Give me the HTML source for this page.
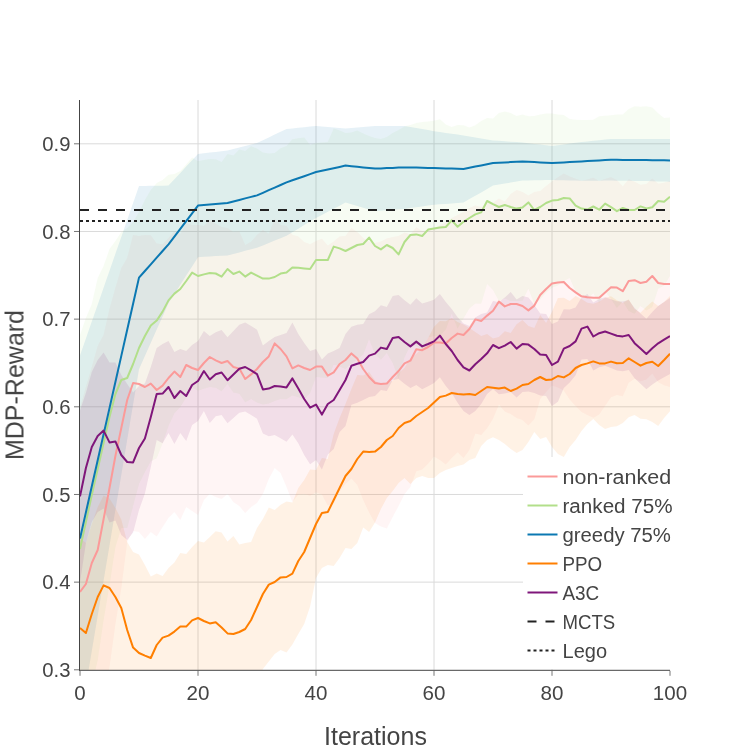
<!DOCTYPE html>
<html lang="en"><head><meta charset="utf-8"><title>MDP-Reward vs Iterations</title>
<style>html,body{margin:0;padding:0;background:#fff;}body{width:750px;height:750px;overflow:hidden;}svg{display:block;}text{font-family:"Liberation Sans",sans-serif;fill:#444;}</style>
</head><body>
<svg width="750" height="750" viewBox="0 0 750 750">
<rect x="0" y="0" width="750" height="750" fill="#fff"/>
<defs><clipPath id="plotclip"><rect x="80" y="100" width="590" height="570"/></clipPath></defs>
<g stroke="#dadada" stroke-width="1">
<line x1="198.0" y1="100" x2="198.0" y2="669.8"/>
<line x1="316.0" y1="100" x2="316.0" y2="669.8"/>
<line x1="434.0" y1="100" x2="434.0" y2="669.8"/>
<line x1="552.0" y1="100" x2="552.0" y2="669.8"/>
<line x1="80" y1="582.13" x2="670" y2="582.13"/>
<line x1="80" y1="494.47" x2="670" y2="494.47"/>
<line x1="80" y1="406.80" x2="670" y2="406.80"/>
<line x1="80" y1="319.13" x2="670" y2="319.13"/>
<line x1="80" y1="231.47" x2="670" y2="231.47"/>
<line x1="80" y1="143.80" x2="670" y2="143.80"/>
</g>
<g clip-path="url(#plotclip)">
<polygon points="80.0,408.0 85.9,387.0 91.8,367.0 97.7,346.0 103.6,335.0 109.5,309.0 115.4,288.0 121.3,268.0 127.2,258.0 133.1,235.0 139.0,236.0 144.9,235.0 150.8,235.2 156.7,243.5 162.6,244.2 168.5,238.0 174.4,231.2 180.3,234.0 186.2,223.0 192.1,225.0 198.0,225.0 203.9,226.0 209.8,220.0 215.7,223.8 221.6,227.0 227.5,228.0 233.4,232.0 239.3,231.2 245.2,245.0 251.1,241.8 257.0,235.0 262.9,230.0 268.8,233.8 274.7,218.8 280.6,225.0 286.5,225.8 292.4,234.8 298.3,236.4 304.2,242.0 310.1,244.2 316.0,241.0 321.9,238.8 327.8,245.6 333.7,241.4 339.6,236.5 345.5,236.0 351.4,228.1 357.3,232.0 363.2,238.0 369.1,241.5 375.0,243.0 380.9,241.5 386.8,238.6 392.7,237.0 398.6,236.0 404.5,232.6 410.4,234.4 416.3,227.3 422.2,230.9 428.1,230.3 434.0,228.6 439.9,225.1 445.8,222.6 451.7,218.0 457.6,215.0 463.5,212.0 469.4,208.0 475.3,205.4 481.2,207.0 487.1,203.0 493.0,202.8 498.9,198.6 504.8,201.4 510.7,194.0 516.6,190.0 522.5,192.0 528.4,195.4 534.3,192.0 540.2,191.0 546.1,186.0 552.0,181.6 557.9,177.2 563.8,173.6 569.7,176.4 575.6,178.8 581.5,180.7 587.4,179.4 593.3,177.7 599.2,181.1 605.1,179.1 611.0,177.3 616.9,180.1 622.8,186.2 628.7,179.2 634.6,181.7 640.5,184.8 646.4,183.9 652.3,178.5 658.2,183.7 664.1,182.8 670.0,181.0 670.0,387.0 664.1,385.2 658.2,382.3 652.3,373.5 646.4,379.5 640.5,381.2 634.6,378.7 628.7,382.8 622.8,396.2 616.9,395.1 611.0,397.3 605.1,405.7 599.2,414.5 593.3,417.7 587.4,415.0 581.5,411.9 575.6,406.0 569.7,399.6 563.8,390.4 557.9,387.6 552.0,385.6 546.1,392.0 540.2,399.0 534.3,419.2 528.4,425.4 522.5,420.0 516.6,418.0 510.7,414.0 504.8,411.4 498.9,404.6 493.0,418.8 487.1,428.2 481.2,435.0 475.3,433.4 469.4,450.0 463.5,458.0 457.6,452.2 451.7,458.0 445.8,464.6 439.9,460.1 434.0,456.6 428.1,463.7 422.2,469.5 416.3,471.3 410.4,487.0 404.5,494.0 398.6,506.0 392.7,517.0 386.8,528.6 380.9,526.5 375.0,523.0 369.1,512.5 363.2,500.0 357.3,485.0 351.4,478.6 345.5,484.0 339.6,491.5 333.7,503.4 327.8,505.6 321.9,494.4 316.0,492.2 310.1,495.8 304.2,494.0 298.3,494.4 292.4,502.0 286.5,487.0 280.6,473.0 274.7,468.0 268.8,479.0 262.9,494.0 257.0,503.0 251.1,507.0 245.2,513.0 239.3,506.0 233.4,502.0 227.5,494.0 221.6,499.0 215.7,497.0 209.8,494.0 203.9,500.0 198.0,515.0 192.1,511.0 186.2,507.0 180.3,520.0 174.4,512.0 168.5,518.0 162.6,527.0 156.7,536.5 150.8,532.0 144.9,539.0 139.0,532.0 133.1,531.0 127.2,542.0 121.3,588.0 115.4,624.0 109.5,667.0 103.6,703.0 97.7,754.0 91.8,759.0 85.9,781.0 80.0,776.0" fill="#FB9A99" fill-opacity="0.1" stroke="none"/>
<polygon points="80.0,335.0 85.9,318.0 91.8,304.0 97.7,278.0 103.6,266.0 109.5,249.0 115.4,241.0 121.3,232.0 127.2,228.0 133.1,222.0 139.0,212.0 144.9,200.0 150.8,190.0 156.7,183.0 162.6,180.0 168.5,174.8 174.4,174.0 180.3,170.9 186.2,164.5 192.1,157.6 198.0,161.3 203.9,160.1 209.8,159.0 215.7,159.2 221.6,161.9 227.5,154.0 233.4,155.5 239.3,149.5 245.2,151.0 251.1,146.3 257.0,148.6 262.9,152.6 268.8,153.6 274.7,153.0 280.6,148.3 286.5,146.0 292.4,139.3 298.3,138.3 304.2,137.4 310.1,145.0 316.0,143.0 321.9,142.5 327.8,142.0 333.7,128.6 339.6,130.4 345.5,133.0 351.4,132.6 357.3,130.5 363.2,133.6 369.1,136.0 375.0,138.0 380.9,139.0 386.8,137.0 392.7,133.0 398.6,130.0 404.5,126.6 410.4,125.0 416.3,123.0 422.2,122.0 428.1,121.6 434.0,120.7 439.9,119.3 445.8,124.5 451.7,127.0 457.6,125.0 463.5,125.3 469.4,127.6 475.3,125.3 481.2,121.0 487.1,117.9 493.0,118.4 498.9,112.9 504.8,111.5 510.7,112.9 516.6,116.1 522.5,114.4 528.4,116.3 534.3,116.1 540.2,114.6 546.1,113.5 552.0,113.4 557.9,114.5 563.8,114.9 569.7,118.9 575.6,119.8 581.5,120.1 587.4,120.1 593.3,119.8 599.2,116.3 605.1,115.8 611.0,115.3 616.9,114.4 622.8,114.6 628.7,108.9 634.6,106.3 640.5,106.8 646.4,106.3 652.3,107.5 658.2,113.2 664.1,118.0 670.0,117.5 670.0,275.9 664.1,285.4 658.2,288.8 652.3,307.1 646.4,310.5 640.5,306.0 634.6,313.7 628.7,311.1 622.8,301.4 616.9,308.0 611.0,299.1 605.1,291.4 599.2,303.1 593.3,293.2 587.4,299.1 581.5,297.1 575.6,291.4 569.7,277.9 563.8,281.1 557.9,285.5 552.0,287.8 546.1,292.5 540.2,299.4 534.3,303.9 528.4,288.5 522.5,300.8 516.6,301.1 510.7,301.1 504.8,298.5 498.9,301.1 493.0,290.0 487.1,284.1 481.2,303.8 475.3,303.5 469.4,308.4 463.5,318.3 457.6,328.6 451.7,313.8 445.8,329.5 439.9,335.9 434.0,336.1 428.1,337.6 422.2,350.0 416.3,345.8 410.4,345.0 404.5,357.4 398.6,378.8 392.7,363.0 386.8,353.0 380.9,359.8 375.0,354.0 369.1,339.2 363.2,354.4 357.3,359.5 351.4,363.4 345.5,369.0 339.6,366.4 333.7,364.6 327.8,378.0 321.9,377.5 316.0,377.0 310.1,393.0 304.2,399.4 298.3,397.3 292.4,395.5 286.5,399.2 280.6,398.9 274.7,401.0 268.8,403.6 262.9,404.6 257.0,402.6 251.1,398.9 245.2,402.2 239.3,393.7 233.4,392.5 227.5,384.0 221.6,391.3 215.7,387.8 209.8,387.0 203.9,388.7 198.0,390.7 192.1,387.6 186.2,397.5 180.3,407.1 174.4,413.2 168.5,426.0 162.6,443.2 156.7,458.2 150.8,461.2 144.9,472.0 139.0,484.0 133.1,506.0 127.2,528.0 121.3,528.0 115.4,547.0 109.5,585.0 103.6,620.0 97.7,660.0 91.8,686.0 85.9,726.0 80.0,763.0" fill="#B2DF8A" fill-opacity="0.1" stroke="none"/>
<polygon points="80.0,355.5 85.9,338.5 91.8,321.6 97.7,304.7 103.6,287.7 109.5,270.8 115.4,253.8 121.3,236.9 127.2,219.9 133.1,203.0 139.0,186.0 144.9,185.9 150.8,185.8 156.7,185.8 162.6,185.7 168.5,185.6 174.4,179.3 180.3,173.0 186.2,166.6 192.1,160.3 198.0,154.0 203.9,153.3 209.8,152.6 215.7,152.0 221.6,151.3 227.5,150.6 233.4,149.1 239.3,147.6 245.2,146.0 251.1,144.5 257.0,143.0 262.9,140.2 268.8,137.4 274.7,134.6 280.6,131.8 286.5,129.0 292.4,128.4 298.3,127.8 304.2,127.2 310.1,126.6 316.0,126.0 321.9,126.5 327.8,127.0 333.7,127.6 339.6,128.1 345.5,128.6 351.4,128.1 357.3,127.6 363.2,127.1 369.1,126.6 375.0,126.1 380.9,126.1 386.8,126.0 392.7,126.0 398.6,125.9 404.5,125.9 410.4,127.0 416.3,128.0 422.2,129.1 428.1,130.1 434.0,131.2 439.9,132.1 445.8,132.9 451.7,133.8 457.6,134.6 463.5,135.5 469.4,136.5 475.3,137.5 481.2,138.4 487.1,139.4 493.0,140.4 498.9,140.8 504.8,141.2 510.7,141.7 516.6,142.1 522.5,142.5 528.4,143.2 534.3,143.9 540.2,144.6 546.1,145.3 552.0,146.0 557.9,145.2 563.8,144.4 569.7,143.6 575.6,142.8 581.5,142.0 587.4,141.4 593.3,140.8 599.2,140.2 605.1,139.6 611.0,139.0 616.9,139.0 622.8,139.0 628.7,139.0 634.6,139.0 640.5,139.0 646.4,139.0 652.3,139.0 658.2,139.1 664.1,139.1 670.0,139.1 670.0,181.7 664.1,181.6 658.2,181.4 652.3,181.3 646.4,181.1 640.5,181.0 634.6,180.9 628.7,180.8 622.8,180.8 616.9,180.7 611.0,180.6 605.1,180.6 599.2,180.7 593.3,180.7 587.4,180.8 581.5,180.8 575.6,180.6 569.7,180.5 563.8,180.3 557.9,180.2 552.0,180.0 546.1,180.1 540.2,180.2 534.3,180.3 528.4,180.4 522.5,180.5 516.6,181.5 510.7,182.5 504.8,183.6 498.9,184.6 493.0,185.6 487.1,189.0 481.2,192.4 475.3,195.7 469.4,199.1 463.5,202.5 457.6,203.0 451.7,203.4 445.8,203.9 439.9,204.3 434.0,204.8 428.1,205.6 422.2,206.4 416.3,207.3 410.4,208.1 404.5,208.9 398.6,209.3 392.7,209.8 386.8,210.2 380.9,210.7 375.0,211.1 369.1,209.4 363.2,207.7 357.3,206.0 351.4,204.3 345.5,202.6 339.6,205.7 333.7,208.8 327.8,211.8 321.9,214.9 316.0,218.0 310.1,221.6 304.2,225.1 298.3,228.7 292.4,232.2 286.5,235.8 280.6,238.2 274.7,240.6 268.8,243.0 262.9,245.4 257.0,247.8 251.1,249.3 245.2,250.8 239.3,252.4 233.4,253.9 227.5,255.4 221.6,255.8 215.7,256.1 209.8,256.5 203.9,256.8 198.0,257.2 192.1,266.4 186.2,275.6 180.3,284.8 174.4,294.0 168.5,303.2 162.6,316.4 156.7,329.6 150.8,342.8 144.9,356.0 139.0,369.2 133.1,404.4 127.2,439.7 121.3,474.9 115.4,510.1 109.5,545.4 103.6,580.6 97.7,615.8 91.8,651.0 85.9,686.3 80.0,721.5" fill="#0B78B2" fill-opacity="0.1" stroke="none"/>
<polygon points="80.0,538.0 85.9,543.0 91.8,524.0 97.7,507.0 103.6,495.4 109.5,498.5 115.4,508.0 121.3,519.5 127.2,542.0 133.1,552.0 139.0,554.4 144.9,565.0 150.8,576.6 156.7,573.6 162.6,576.0 168.5,568.0 174.4,562.4 180.3,553.0 186.2,554.0 192.1,547.0 198.0,541.0 203.9,542.4 209.8,537.0 215.7,531.2 221.6,532.5 227.5,541.6 233.4,536.0 239.3,544.6 245.2,543.0 251.1,542.0 257.0,528.0 262.9,519.0 268.8,507.6 274.7,510.0 280.6,504.8 286.5,501.6 292.4,502.6 298.3,488.0 304.2,480.0 310.1,469.5 316.0,470.0 321.9,458.0 327.8,459.0 333.7,434.0 339.6,418.0 345.5,404.0 351.4,389.0 357.3,375.0 363.2,375.6 369.1,372.0 375.0,380.6 380.9,385.0 386.8,382.0 392.7,381.0 398.6,373.0 404.5,368.0 410.4,358.0 416.3,354.0 422.2,348.0 428.1,338.0 434.0,326.8 439.9,321.0 445.8,321.2 451.7,318.0 457.6,322.0 463.5,324.6 469.4,328.0 475.3,332.0 481.2,336.0 487.1,334.0 493.0,338.4 498.9,336.9 504.8,331.2 510.7,333.0 516.6,324.2 522.5,320.0 528.4,326.0 534.3,328.0 540.2,315.0 546.1,323.0 552.0,311.8 557.9,298.0 563.8,297.8 569.7,301.0 575.6,296.0 581.5,299.0 587.4,302.8 593.3,303.8 599.2,301.8 605.1,297.8 611.0,296.2 616.9,300.3 622.8,303.0 628.7,299.3 634.6,309.0 640.5,312.7 646.4,306.7 652.3,301.4 658.2,306.0 664.1,302.0 670.0,296.1 670.0,411.3 664.1,418.0 658.2,426.0 652.3,422.0 646.4,419.3 640.5,418.7 634.6,415.0 628.7,417.3 622.8,423.0 616.9,426.3 611.0,427.0 605.1,429.0 599.2,425.0 593.3,419.0 587.4,424.0 581.5,431.0 575.6,440.0 569.7,447.0 563.8,457.0 557.9,454.0 552.0,447.0 546.1,437.0 540.2,439.0 534.3,432.0 528.4,442.0 522.5,450.0 516.6,453.0 510.7,449.0 504.8,444.0 498.9,440.1 493.0,437.2 487.1,440.0 481.2,446.0 475.3,458.0 469.4,460.0 463.5,464.6 457.6,466.0 451.7,468.0 445.8,470.0 439.9,473.0 434.0,478.0 428.1,478.0 422.2,476.0 416.3,478.0 410.4,484.0 404.5,478.0 398.6,483.0 392.7,491.0 386.8,498.0 380.9,509.0 375.0,522.6 369.1,532.0 363.2,527.6 357.3,543.0 351.4,549.0 345.5,548.0 339.6,558.0 333.7,566.0 327.8,565.0 321.9,568.0 316.0,578.0 310.1,606.5 304.2,624.0 298.3,634.0 292.4,644.6 286.5,652.4 280.6,650.0 274.7,654.0 268.8,661.6 262.9,669.0 257.0,686.0 251.1,698.0 245.2,715.0 239.3,719.4 233.4,732.0 227.5,725.2 221.6,722.5 215.7,713.2 209.8,709.8 203.9,699.6 198.0,695.0 192.1,693.8 186.2,699.2 180.3,700.2 174.4,700.8 168.5,703.2 162.6,699.2 156.7,716.4 150.8,739.4 144.9,746.2 139.0,751.6 133.1,743.2 127.2,718.0 121.3,696.5 115.4,686.0 109.5,677.5 103.6,675.4 97.7,687.0 91.8,704.0 85.9,723.0 80.0,718.0" fill="#FF7F00" fill-opacity="0.1" stroke="none"/>
<polygon points="80.0,410.4 85.9,393.0 91.8,372.0 97.7,360.0 103.6,352.6 109.5,362.4 115.4,362.4 121.3,375.0 127.2,384.0 133.1,392.4 139.0,386.0 144.9,383.4 150.8,367.0 156.7,348.0 162.6,344.0 168.5,341.0 174.4,352.0 180.3,349.0 186.2,351.0 192.1,345.0 198.0,341.0 203.9,331.0 209.8,336.0 215.7,332.3 221.6,330.0 227.5,337.2 233.4,331.1 239.3,324.8 245.2,322.5 251.1,325.9 257.0,329.7 262.9,345.4 268.8,341.0 274.7,337.0 280.6,335.0 286.5,333.0 292.4,322.4 298.3,334.0 304.2,343.0 310.1,351.0 316.0,349.1 321.9,359.6 327.8,353.6 333.7,351.0 339.6,348.0 345.5,334.0 351.4,326.8 357.3,324.8 363.2,324.0 369.1,314.2 375.0,311.2 380.9,305.3 386.8,306.9 392.7,296.0 398.6,295.1 404.5,300.3 410.4,304.8 416.3,298.2 422.2,303.6 428.1,301.8 434.0,299.8 439.9,293.9 445.8,302.1 451.7,309.0 457.6,317.2 463.5,323.6 469.4,326.0 475.3,317.4 481.2,314.0 487.1,312.6 493.0,301.0 498.9,302.2 504.8,297.6 510.7,292.0 516.6,299.6 522.5,296.0 528.4,297.6 534.3,305.0 540.2,313.6 546.1,314.0 552.0,324.0 557.9,321.4 563.8,309.2 569.7,309.4 575.6,307.6 581.5,297.6 587.4,294.1 593.3,302.5 599.2,299.1 605.1,297.2 611.0,299.2 616.9,301.2 622.8,301.6 628.7,300.0 634.6,308.1 640.5,313.4 646.4,318.7 652.3,312.0 658.2,306.0 664.1,302.1 670.0,298.0 670.0,374.0 664.1,377.3 658.2,380.6 652.3,384.6 646.4,389.3 640.5,383.8 634.6,378.3 628.7,370.0 622.8,371.2 616.9,370.4 611.0,368.0 605.1,365.8 599.2,367.3 593.3,370.5 587.4,359.1 581.5,359.6 575.6,375.2 569.7,382.6 563.8,388.0 557.9,401.8 552.0,406.0 546.1,396.0 540.2,395.6 534.3,393.0 528.4,391.6 522.5,392.0 516.6,397.6 510.7,392.0 504.8,393.6 498.9,394.2 493.0,389.0 487.1,394.0 481.2,404.0 475.3,411.0 469.4,415.0 463.5,411.0 457.6,402.8 451.7,393.0 445.8,385.9 439.9,377.3 434.0,383.0 428.1,386.2 422.2,389.2 416.3,385.0 410.4,388.0 404.5,383.7 398.6,378.9 392.7,380.0 386.8,391.1 380.9,389.9 375.0,396.0 369.1,397.0 363.2,400.0 357.3,402.8 351.4,404.8 345.5,426.0 339.6,432.0 333.7,449.0 327.8,454.4 321.9,469.6 316.0,460.1 310.1,464.2 304.2,455.0 298.3,443.2 292.4,434.4 286.5,441.8 280.6,438.2 274.7,435.0 268.8,436.2 262.9,433.4 257.0,418.7 251.1,414.9 245.2,411.5 239.3,412.8 233.4,418.1 227.5,423.2 221.6,415.0 215.7,416.3 209.8,423.0 203.9,411.0 198.0,421.0 192.1,425.0 186.2,441.0 180.3,433.0 174.4,444.0 168.5,433.0 162.6,443.2 156.7,440.0 150.8,467.0 144.9,493.4 139.0,510.0 133.1,532.4 127.2,540.0 121.3,535.0 115.4,520.4 109.5,522.4 103.6,508.6 97.7,512.0 91.8,522.0 85.9,543.0 80.0,582.4" fill="#7F167A" fill-opacity="0.1" stroke="none"/>
<polyline points="80.0,592.0 85.9,584.0 91.8,563.0 97.7,550.0 103.6,519.0 109.5,488.0 115.4,456.0 121.3,428.0 127.2,400.0 133.1,383.0 139.0,384.0 144.9,387.0 150.8,383.6 156.7,390.0 162.6,385.6 168.5,378.0 174.4,371.6 180.3,377.0 186.2,365.0 192.1,368.0 198.0,370.0 203.9,363.0 209.8,357.0 215.7,360.4 221.6,363.0 227.5,361.0 233.4,367.0 239.3,368.6 245.2,379.0 251.1,374.4 257.0,369.0 262.9,362.0 268.8,356.4 274.7,343.4 280.6,349.0 286.5,356.4 292.4,368.4 298.3,365.4 304.2,368.0 310.1,370.0 316.0,366.6 321.9,366.6 327.8,375.6 333.7,372.4 339.6,364.0 345.5,360.0 351.4,353.4 357.3,358.5 363.2,369.0 369.1,377.0 375.0,383.0 380.9,384.0 386.8,383.6 392.7,377.0 398.6,371.0 404.5,363.3 410.4,360.7 416.3,349.3 422.2,350.2 428.1,347.0 434.0,342.6 439.9,342.6 445.8,343.6 451.7,338.0 457.6,333.6 463.5,335.0 469.4,329.0 475.3,319.4 481.2,321.0 487.1,315.6 493.0,310.8 498.9,301.6 504.8,306.4 510.7,304.0 516.6,304.0 522.5,306.0 528.4,310.4 534.3,305.6 540.2,295.0 546.1,289.0 552.0,283.6 557.9,282.4 563.8,282.0 569.7,288.0 575.6,292.4 581.5,296.3 587.4,297.2 593.3,297.7 599.2,297.8 605.1,292.4 611.0,287.3 616.9,287.6 622.8,291.2 628.7,281.0 634.6,280.2 640.5,283.0 646.4,281.7 652.3,276.0 658.2,283.0 664.1,284.0 670.0,284.0" fill="none" stroke="#FB9A99" stroke-width="2" stroke-linejoin="round"/>
<polyline points="80.0,549.0 85.9,522.0 91.8,495.0 97.7,469.0 103.6,443.0 109.5,417.0 115.4,394.0 121.3,380.0 127.2,378.0 133.1,364.0 139.0,348.0 144.9,336.0 150.8,325.6 156.7,320.6 162.6,311.6 168.5,300.4 174.4,293.6 180.3,289.0 186.2,281.0 192.1,272.6 198.0,276.0 203.9,274.4 209.8,273.0 215.7,273.5 221.6,276.6 227.5,269.0 233.4,274.0 239.3,271.6 245.2,276.6 251.1,272.6 257.0,275.6 262.9,278.6 268.8,278.6 274.7,277.0 280.6,273.6 286.5,272.6 292.4,267.4 298.3,267.8 304.2,268.4 310.1,269.0 316.0,260.0 321.9,260.0 327.8,260.0 333.7,246.6 339.6,248.4 345.5,251.0 351.4,248.0 357.3,245.0 363.2,244.0 369.1,237.6 375.0,246.0 380.9,249.4 386.8,245.0 392.7,248.0 398.6,254.4 404.5,242.0 410.4,235.0 416.3,234.4 422.2,236.0 428.1,229.6 434.0,228.4 439.9,227.6 445.8,227.0 451.7,220.4 457.6,226.8 463.5,221.8 469.4,218.0 475.3,214.4 481.2,212.4 487.1,201.0 493.0,204.2 498.9,207.0 504.8,205.0 510.7,207.0 516.6,208.6 522.5,207.6 528.4,202.4 534.3,210.0 540.2,207.0 546.1,203.0 552.0,200.6 557.9,200.0 563.8,198.0 569.7,198.4 575.6,205.6 581.5,208.6 587.4,209.6 593.3,206.5 599.2,209.7 605.1,203.6 611.0,207.2 616.9,211.2 622.8,208.0 628.7,210.0 634.6,210.0 640.5,206.4 646.4,208.4 652.3,207.3 658.2,201.0 664.1,201.7 670.0,196.7" fill="none" stroke="#B2DF8A" stroke-width="2" stroke-linejoin="round"/>
<polyline points="80.0,538.5 85.9,512.4 91.8,486.3 97.7,460.2 103.6,434.1 109.5,408.1 115.4,382.0 121.3,355.9 127.2,329.8 133.1,303.7 139.0,277.6 144.9,271.0 150.8,264.3 156.7,257.7 162.6,251.0 168.5,244.4 174.4,236.6 180.3,228.9 186.2,221.1 192.1,213.4 198.0,205.6 203.9,205.1 209.8,204.6 215.7,204.0 221.6,203.5 227.5,203.0 233.4,201.5 239.3,200.0 245.2,198.4 251.1,196.9 257.0,195.4 262.9,192.8 268.8,190.2 274.7,187.6 280.6,185.0 286.5,182.4 292.4,180.3 298.3,178.2 304.2,176.2 310.1,174.1 316.0,172.0 321.9,170.7 327.8,169.4 333.7,168.2 339.6,166.9 345.5,165.6 351.4,166.2 357.3,166.8 363.2,167.4 369.1,168.0 375.0,168.6 380.9,168.4 386.8,168.1 392.7,167.9 398.6,167.6 404.5,167.4 410.4,167.5 416.3,167.6 422.2,167.8 428.1,167.9 434.0,168.0 439.9,168.2 445.8,168.4 451.7,168.6 457.6,168.8 463.5,169.0 469.4,167.8 475.3,166.6 481.2,165.4 487.1,164.2 493.0,163.0 498.9,162.7 504.8,162.4 510.7,162.1 516.6,161.8 522.5,161.5 528.4,161.8 534.3,162.1 540.2,162.4 546.1,162.7 552.0,163.0 557.9,162.7 563.8,162.4 569.7,162.0 575.6,161.7 581.5,161.4 587.4,161.1 593.3,160.8 599.2,160.4 605.1,160.1 611.0,159.8 616.9,159.8 622.8,159.9 628.7,159.9 634.6,160.0 640.5,160.0 646.4,160.1 652.3,160.2 658.2,160.2 664.1,160.3 670.0,160.4" fill="none" stroke="#0B78B2" stroke-width="2" stroke-linejoin="round"/>
<polyline points="80.0,628.0 85.9,633.0 91.8,614.0 97.7,597.0 103.6,585.4 109.5,588.0 115.4,597.0 121.3,608.0 127.2,630.0 133.1,647.6 139.0,653.0 144.9,655.6 150.8,658.0 156.7,645.0 162.6,637.6 168.5,635.6 174.4,631.6 180.3,626.6 186.2,626.6 192.1,620.4 198.0,618.0 203.9,621.0 209.8,623.4 215.7,622.2 221.6,627.5 227.5,633.4 233.4,634.0 239.3,632.0 245.2,629.0 251.1,620.0 257.0,607.0 262.9,594.0 268.8,584.6 274.7,582.0 280.6,577.4 286.5,577.0 292.4,573.6 298.3,561.0 304.2,552.0 310.1,538.0 316.0,524.0 321.9,513.0 327.8,512.0 333.7,500.0 339.6,488.0 345.5,476.0 351.4,469.0 357.3,459.0 363.2,451.6 369.1,452.0 375.0,451.6 380.9,447.0 386.8,440.0 392.7,436.0 398.6,428.0 404.5,423.0 410.4,421.0 416.3,416.0 422.2,412.0 428.1,408.0 434.0,402.4 439.9,397.0 445.8,395.6 451.7,393.0 457.6,394.0 463.5,394.6 469.4,394.0 475.3,395.0 481.2,391.0 487.1,387.0 493.0,387.8 498.9,388.5 504.8,387.6 510.7,391.0 516.6,388.6 522.5,385.0 528.4,384.0 534.3,380.0 540.2,377.0 546.1,380.0 552.0,379.4 557.9,376.0 563.8,377.4 569.7,374.0 575.6,368.0 581.5,365.0 587.4,363.4 593.3,361.4 599.2,363.4 605.1,363.4 611.0,361.6 616.9,363.3 622.8,363.0 628.7,358.3 634.6,362.0 640.5,365.7 646.4,363.0 652.3,361.7 658.2,366.0 664.1,360.0 670.0,353.7" fill="none" stroke="#FF7F00" stroke-width="2" stroke-linejoin="round"/>
<polyline points="80.0,496.4 85.9,468.0 91.8,447.0 97.7,436.0 103.6,430.6 109.5,442.4 115.4,441.4 121.3,455.0 127.2,462.0 133.1,462.4 139.0,448.0 144.9,438.4 150.8,417.0 156.7,394.0 162.6,393.6 168.5,387.0 174.4,398.0 180.3,391.0 186.2,396.0 192.1,385.0 198.0,381.0 203.9,371.0 209.8,379.5 215.7,374.3 221.6,372.5 227.5,380.2 233.4,374.6 239.3,368.8 245.2,367.0 251.1,370.4 257.0,374.2 262.9,389.4 268.8,388.6 274.7,386.0 280.6,386.6 286.5,387.4 292.4,378.4 298.3,388.6 304.2,399.0 310.1,407.6 316.0,404.6 321.9,414.6 327.8,404.0 333.7,400.0 339.6,390.0 345.5,380.0 351.4,365.8 357.3,363.8 363.2,362.0 369.1,355.6 375.0,353.6 380.9,347.6 386.8,349.0 392.7,338.0 398.6,337.0 404.5,342.0 410.4,346.4 416.3,341.6 422.2,346.4 428.1,344.0 434.0,341.4 439.9,335.6 445.8,344.0 451.7,351.0 457.6,360.0 463.5,367.3 469.4,370.5 475.3,364.2 481.2,359.0 487.1,353.3 493.0,345.0 498.9,348.2 504.8,345.6 510.7,342.0 516.6,348.6 522.5,344.0 528.4,344.6 534.3,349.0 540.2,354.6 546.1,355.0 552.0,365.0 557.9,361.6 563.8,348.6 569.7,346.0 575.6,341.4 581.5,328.6 587.4,326.6 593.3,336.5 599.2,333.2 605.1,331.5 611.0,333.6 616.9,335.8 622.8,336.4 628.7,335.0 634.6,343.2 640.5,348.6 646.4,354.0 652.3,348.3 658.2,343.3 664.1,339.7 670.0,336.0" fill="none" stroke="#7F167A" stroke-width="2" stroke-linejoin="round"/>
<line x1="80" y1="210" x2="670" y2="210" stroke="#222" stroke-width="2" stroke-dasharray="9,9"/>
<line x1="80" y1="221" x2="670" y2="221" stroke="#222" stroke-width="2" stroke-dasharray="3,3"/>
</g>
<g stroke="#777" stroke-width="1">
<line x1="80.0" y1="670.8" x2="80.0" y2="675.8"/>
<line x1="198.0" y1="670.8" x2="198.0" y2="675.8"/>
<line x1="316.0" y1="670.8" x2="316.0" y2="675.8"/>
<line x1="434.0" y1="670.8" x2="434.0" y2="675.8"/>
<line x1="552.0" y1="670.8" x2="552.0" y2="675.8"/>
<line x1="670.0" y1="670.8" x2="670.0" y2="675.8"/>
<line x1="74" y1="669.80" x2="79" y2="669.80"/>
<line x1="74" y1="582.13" x2="79" y2="582.13"/>
<line x1="74" y1="494.47" x2="79" y2="494.47"/>
<line x1="74" y1="406.80" x2="79" y2="406.80"/>
<line x1="74" y1="319.13" x2="79" y2="319.13"/>
<line x1="74" y1="231.47" x2="79" y2="231.47"/>
<line x1="74" y1="143.80" x2="79" y2="143.80"/>
</g>
<g stroke="#444" stroke-width="1">
<line x1="79.5" y1="100" x2="79.5" y2="670.8"/>
<line x1="79" y1="670.3" x2="670" y2="670.3"/>
</g>
<rect x="523" y="457" width="160" height="212" fill="#fff"/>
<g opacity="0.999">
<text x="80.0" y="700" font-size="20" text-anchor="middle" textLength="11.4" lengthAdjust="spacingAndGlyphs" fill="#4c4c4c">0</text>
<text x="198.0" y="700" font-size="20" text-anchor="middle" textLength="22.9" lengthAdjust="spacingAndGlyphs" fill="#4c4c4c">20</text>
<text x="316.0" y="700" font-size="20" text-anchor="middle" textLength="22.9" lengthAdjust="spacingAndGlyphs" fill="#4c4c4c">40</text>
<text x="434.0" y="700" font-size="20" text-anchor="middle" textLength="22.9" lengthAdjust="spacingAndGlyphs" fill="#4c4c4c">60</text>
<text x="552.0" y="700" font-size="20" text-anchor="middle" textLength="22.9" lengthAdjust="spacingAndGlyphs" fill="#4c4c4c">80</text>
<text x="670.0" y="700" font-size="20" text-anchor="middle" textLength="34.3" lengthAdjust="spacingAndGlyphs" fill="#4c4c4c">100</text>
<text x="70.5" y="677.1" font-size="20" text-anchor="end" textLength="28.2" lengthAdjust="spacingAndGlyphs" fill="#4c4c4c">0.3</text>
<text x="70.5" y="589.4" font-size="20" text-anchor="end" textLength="28.2" lengthAdjust="spacingAndGlyphs" fill="#4c4c4c">0.4</text>
<text x="70.5" y="501.8" font-size="20" text-anchor="end" textLength="28.2" lengthAdjust="spacingAndGlyphs" fill="#4c4c4c">0.5</text>
<text x="70.5" y="414.1" font-size="20" text-anchor="end" textLength="28.2" lengthAdjust="spacingAndGlyphs" fill="#4c4c4c">0.6</text>
<text x="70.5" y="326.4" font-size="20" text-anchor="end" textLength="28.2" lengthAdjust="spacingAndGlyphs" fill="#4c4c4c">0.7</text>
<text x="70.5" y="238.8" font-size="20" text-anchor="end" textLength="28.2" lengthAdjust="spacingAndGlyphs" fill="#4c4c4c">0.8</text>
<text x="70.5" y="151.1" font-size="20" text-anchor="end" textLength="28.2" lengthAdjust="spacingAndGlyphs" fill="#4c4c4c">0.9</text>
<text x="375.5" y="744.5" font-size="25" text-anchor="middle">Iterations</text>
<text transform="translate(23.5,385) rotate(-90)" font-size="25" text-anchor="middle">MDP-Reward</text>
<line x1="527.5" y1="476.5" x2="557.5" y2="476.5" stroke="#FB9A99" stroke-width="2"/>
<text x="562.5" y="484.0" font-size="20" textLength="108.6" lengthAdjust="spacingAndGlyphs" fill="#4c4c4c">non-ranked</text>
<line x1="527.5" y1="505.5" x2="557.5" y2="505.5" stroke="#B2DF8A" stroke-width="2"/>
<text x="562.5" y="513.0" font-size="20" textLength="110.1" lengthAdjust="spacingAndGlyphs" fill="#4c4c4c">ranked 75%</text>
<line x1="527.5" y1="534.5" x2="557.5" y2="534.5" stroke="#0B78B2" stroke-width="2"/>
<text x="562.5" y="542.0" font-size="20" textLength="108.4" lengthAdjust="spacingAndGlyphs" fill="#4c4c4c">greedy 75%</text>
<line x1="527.5" y1="563.5" x2="557.5" y2="563.5" stroke="#FF7F00" stroke-width="2"/>
<text x="562.5" y="571.0" font-size="20" textLength="39.7" lengthAdjust="spacingAndGlyphs" fill="#4c4c4c">PPO</text>
<line x1="527.5" y1="592.5" x2="557.5" y2="592.5" stroke="#7F167A" stroke-width="2"/>
<text x="562.5" y="600.0" font-size="20" textLength="36.7" lengthAdjust="spacingAndGlyphs" fill="#4c4c4c">A3C</text>
<line x1="527.5" y1="621.5" x2="557.5" y2="621.5" stroke="#222" stroke-width="2" stroke-dasharray="9,9"/>
<text x="562.5" y="629.0" font-size="20" textLength="52.7" lengthAdjust="spacingAndGlyphs" fill="#4c4c4c">MCTS</text>
<line x1="527.5" y1="650.5" x2="557.5" y2="650.5" stroke="#222" stroke-width="2" stroke-dasharray="3,3"/>
<text x="562.5" y="658.0" font-size="20" textLength="44.6" lengthAdjust="spacingAndGlyphs" fill="#4c4c4c">Lego</text>
</g>
</svg>
</body></html>
